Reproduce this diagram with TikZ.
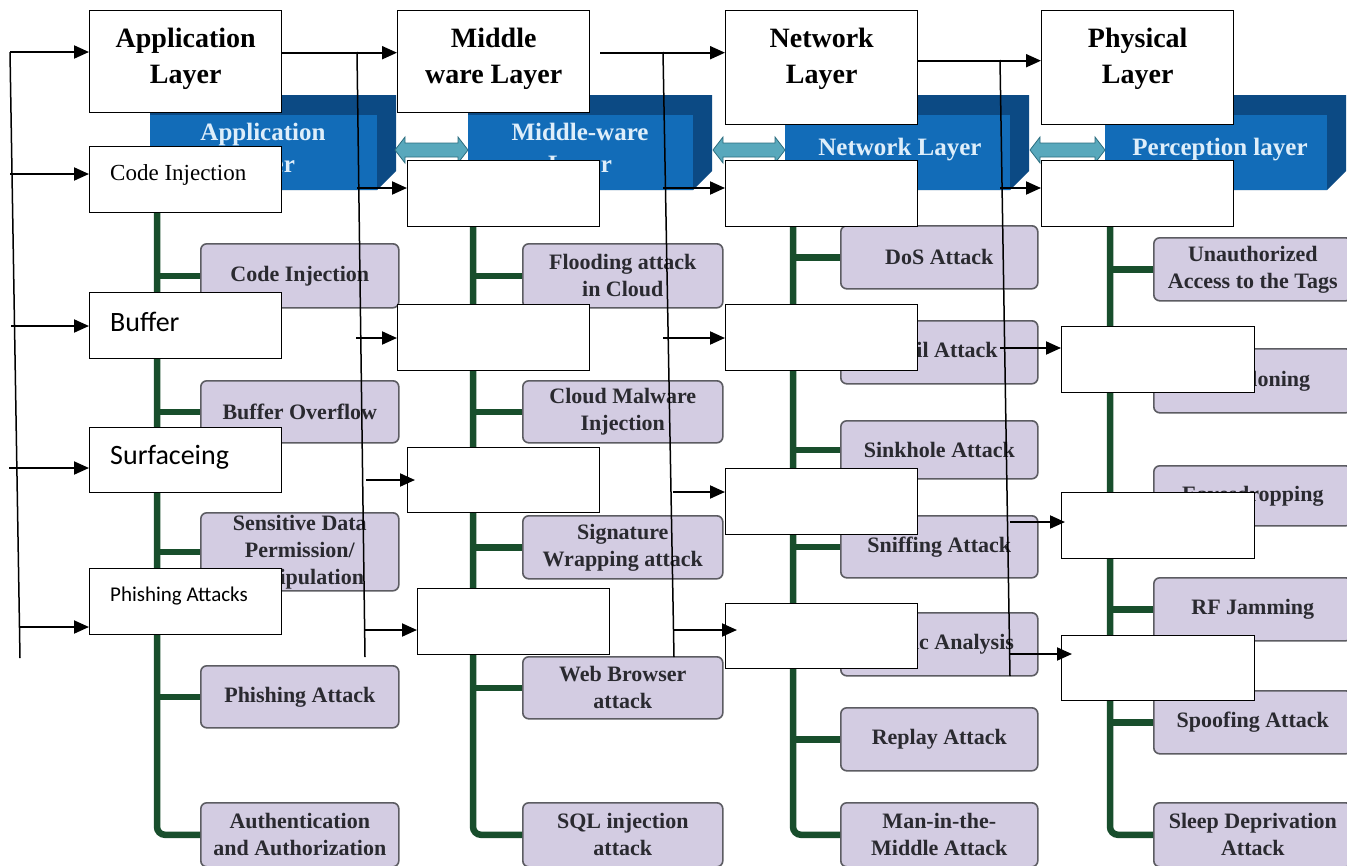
\documentclass[tikz,border=0pt]{standalone}
\usepackage{fontspec}
\setmainfont{Liberation Serif}
\newfontfamily\carlito{Carlito}
\usepackage{tikz}
\usetikzlibrary{arrows.meta,calc}

\definecolor{blkfront}{RGB}{18,108,184}
\definecolor{blkback}{RGB}{12,74,132}
\definecolor{blktext}{RGB}{222,238,250}
\definecolor{linkteal}{RGB}{88,168,188}
\definecolor{linkedge}{RGB}{45,110,128}
\definecolor{treegreen}{RGB}{24,78,44}
\definecolor{atkfill}{RGB}{211,204,226}
\definecolor{atkedge}{RGB}{92,92,98}
\definecolor{atktext}{RGB}{42,42,48}

\begin{document}
\begin{tikzpicture}[x=1pt, y=-1pt, >={Triangle[length=15pt,width=13pt]},
	wbox/.style={draw=black, line width=1.4pt, fill=white, anchor=north west, minimum width=192pt, minimum height=66pt, inner sep=0pt},
	layertext/.style={font=\bfseries\fontsize{28}{36}\selectfont, align=center, inner sep=0pt},
	hdtext/.style={font=\bfseries\fontsize{25}{32}\selectfont, text=blktext, align=center, inner sep=0pt},
	sidetext/.style={anchor=west, inner sep=0pt},
	atkbox/.style={draw=atkedge, line width=1.6pt, fill=atkfill, rounded corners=6pt, anchor=north west, minimum width=198pt, inner sep=1pt, text=atktext, align=center, font=\bfseries\fontsize{22}{27}\selectfont},
	treeline/.style={draw=treegreen, line width=6.5pt, rounded corners=8pt},
	busline/.style={draw=black, line width=1.5pt},
	feedarrow/.style={->, draw=black, line width=2pt}]
		\clip (0,0) rectangle (1347,865);
		\fill[white] (0,0) rectangle (1347,865);
		% blue layer blocks of the underlying figure
		\foreach \xl/\xr in {150/377, 468/693, 785/1010, 1105/1327} {
			\fill[blkback] (\xl,95) -- (\xr+19,95) -- (\xr+19,171) -- (\xr,190) -- (\xl,190) -- cycle;
			\fill[blkfront] (\xl,115) rectangle (\xr,190);
		}
		\foreach \xa/\xb in {395/468, 713/785, 1030/1105} {
			\filldraw[fill=linkteal, draw=linkedge, line width=0.8pt]
				(\xa,150) -- (\xa+10,137) -- (\xa+10,143) -- (\xb-10,143) -- (\xb-10,137) -- (\xb,150)
				-- (\xb-10,163) -- (\xb-10,157) -- (\xa+10,157) -- (\xa+10,163) -- cycle;
		}
		\node[hdtext] (happ) at (263,151) {Application\\Layer};
		\node[hdtext] (hmid) at (580,151) {Middle-ware\\Layer};
		\node[hdtext] (hnet) at (900,150) {Network Layer};
		\node[hdtext] (hper) at (1220,150) {Perception layer};
		% attack boxes
		\node[atkbox, minimum height=64pt] (acode) at (200,243) {Code Injection};
		\node[atkbox, minimum height=62pt] (abuf) at (200,380) {Buffer Overflow};
		\node[atkbox, minimum height=78pt] (asens) at (200,512) {Sensitive Data\\Permission/\\Manipulation};
		\node[atkbox, minimum height=62pt] (aphish) at (200,665) {Phishing Attack};
		\node[atkbox, minimum height=64pt] (aauth) at (200,802) {Authentication\\and Authorization};
		\node[atkbox, minimum width=200pt, minimum height=64pt] (mflood) at (522,243) {Flooding attack\\in Cloud};
		\node[atkbox, minimum width=200pt, minimum height=62pt] (mmal) at (522,380) {Cloud Malware\\Injection};
		\node[atkbox, minimum width=200pt, minimum height=63pt] (msig) at (522,515) {Signature\\Wrapping attack};
		\node[atkbox, minimum width=200pt, minimum height=62pt] (mweb) at (522,656) {Web Browser\\attack};
		\node[atkbox, minimum width=200pt, minimum height=64pt] (msql) at (522,802) {SQL injection\\attack};
		\node[atkbox, minimum width=197pt, minimum height=63pt] (ndos) at (840,225) {DoS Attack};
		\node[atkbox, minimum width=197pt, minimum height=63pt] (nsyb) at (840,320) {Sybil Attack};
		\node[atkbox, minimum width=197pt, minimum height=58pt] (nsink) at (840,420) {Sinkhole Attack};
		\node[atkbox, minimum width=197pt, minimum height=62pt] (nsniff) at (840,515) {Sniffing Attack};
		\node[atkbox, minimum width=197pt, minimum height=63pt] (ntraf) at (840,612) {Traffic Analysis};
		\node[atkbox, minimum width=197pt, minimum height=63pt] (nrep) at (840,707) {Replay Attack};
		\node[atkbox, minimum width=197pt, minimum height=64pt] (nmitm) at (840,802) {Man-in-the-\\Middle Attack};
		\node[atkbox, minimum height=63pt] (ptag) at (1153,237) {Unauthorized\\Access to the Tags};
		\node[atkbox, minimum height=64pt] (pclone) at (1153,348) {Tag Cloning};
		\node[atkbox, minimum height=60pt] (peaves) at (1153,465) {Eavesdropping};
		\node[atkbox, minimum height=63pt] (pjam) at (1153,577) {RF Jamming};
		\node[atkbox, minimum height=63pt] (pspoof) at (1153,690) {Spoofing Attack};
		\node[atkbox, minimum height=64pt] (psleep) at (1153,802) {Sleep Deprivation\\Attack};
		% green trees
		\coordinate (atree) at (157,190);
		\coordinate (mtree) at (473,190);
		\coordinate (ntree) at (793,190);
		\coordinate (ptree) at (1110,190);
		\draw[treeline] (atree) |- (aauth.west);
		\foreach \b in {acode,abuf,asens,aphish} \draw[treeline] (\b.west -| atree) -- (\b.west);
		\draw[treeline] (mtree) |- (msql.west);
		\foreach \b in {mflood,mmal,msig,mweb} \draw[treeline] (\b.west -| mtree) -- (\b.west);
		\draw[treeline] (ntree) |- (nmitm.west);
		\foreach \b in {ndos,nsyb,nsink,nsniff,ntraf,nrep} \draw[treeline] (\b.west -| ntree) -- (\b.west);
		\draw[treeline] (ptree) |- (psleep.west);
		\foreach \b in {ptag,pclone,peaves,pjam,pspoof} \draw[treeline] (\b.west -| ptree) -- (\b.west);
		% white overlay boxes
		\node[wbox, minimum height=102pt] (app) at (89,10) {};
		\node[wbox, minimum height=102pt] (mw) at (397,10) {};
		\node[wbox, minimum height=114pt] (nw) at (725,10) {};
		\node[wbox, minimum height=114pt] (phy) at (1041,10) {};
		\node[layertext] (apptxt) at ($(app.center)+(0,-2.5)$) {Application\\Layer};
		\node[layertext] (mwtxt) at ($(mw.center)+(0,-2.5)$) {Middle\\ware Layer};
		\node[layertext] (nwtxt) at ($(nw.center)+(0,-8.5)$) {Network\\Layer};
		\node[layertext] (phytxt) at ($(phy.center)+(0,-8.5)$) {Physical\\Layer};
		\node[wbox] (ci) at (89,146) {};
		\node[wbox] (m2) at (407,160) {};
		\node[wbox] (n2) at (725,160) {};
		\node[wbox] (p2) at (1041,160) {};
		\node[wbox] (buf) at (89,292) {};
		\node[wbox] (m3) at (397,304) {};
		\node[wbox] (n3) at (725,304) {};
		\node[wbox, minimum width=193pt] (p3) at (1061,326) {};
		\node[wbox, minimum height=65pt] (surf) at (89,427) {};
		\node[wbox, minimum height=65pt] (m4) at (407,447) {};
		\node[wbox] (n4) at (725,468) {};
		\node[wbox, minimum width=193pt] (p4) at (1061,492) {};
		\node[wbox] (phish) at (89,568) {};
		\node[wbox] (m5) at (417,588) {};
		\node[wbox, minimum height=65pt] (n5) at (725,603) {};
		\node[wbox, minimum width=193pt, minimum height=65pt] (p5) at (1061,635) {};
		\node[sidetext, font=\fontsize{23}{28}\selectfont] (citxt) at ($(ci.west)+(21,-4.4)$) {Code Injection};
		\node[sidetext, font=\carlito\fontsize{28}{34}\selectfont] (buftxt) at ($(buf.west)+(21,-3.5)$) {Buffer};
		\node[sidetext, font=\carlito\fontsize{28}{34}\selectfont] (surftxt) at ($(surf.west)+(21,-3)$) {Surfaceing};
		\node[sidetext, font=\carlito\fontsize{21}{26}\selectfont] (phishtxt) at ($(phish.west)+(21,-6)$) {Phishing Attacks};
		% buses and feeds
		\coordinate (b1top) at (10,52);
		\coordinate (b1bot) at (20,658);
		\coordinate (b1b) at (10,174);
		\coordinate (b1c) at (11,326);
		\coordinate (b1d) at (9,468);
		\coordinate (b1e) at (19,627);
		\draw[busline] (b1top) -- (b1bot);
		\draw[feedarrow] (b1top) -- (b1top -| app.west);
		\draw[feedarrow] (b1b) -- (b1b -| ci.west);
		\draw[feedarrow] (b1c) -- (b1c -| buf.west);
		\draw[feedarrow] (b1d) -- (b1d -| surf.west);
		\draw[feedarrow] (b1e) -- (b1e -| phish.west);
		\coordinate (b2top) at (357,52);
		\coordinate (b2bot) at (365,657);
		\coordinate (b2b) at (357,188);
		\coordinate (b2c) at (356,338);
		\coordinate (b2d) at (366,480);
		\coordinate (b2e) at (365,630);
		\draw[busline] (b2top) -- (b2bot);
		\draw[feedarrow] ($(app.east)+(0,-9)$) -- ($(mw.west)+(0,-9)$);
		\draw[feedarrow] (b2b) -- (b2b -| m2.west);
		\draw[feedarrow] (b2c) -- (b2c -| m3.west);
		\draw[feedarrow] (b2d) -- ($(b2d -| m4.west)+(8,0)$);
		\draw[feedarrow] (b2e) -- (b2e -| m5.west);
		\coordinate (b3top) at (663,52);
		\coordinate (b3bot) at (674,657);
		\coordinate (mwout) at ($(mw.east)+(10,-9)$);
		\coordinate (b3b) at (663,188);
		\coordinate (b3c) at (663,338);
		\coordinate (b3d) at (673,492);
		\coordinate (b3e) at (673,630);
		\draw[busline] (b3top) -- (b3bot);
		\draw[feedarrow] (mwout) -- (mwout -| nw.west);
		\draw[feedarrow] (b3b) -- (b3b -| n2.west);
		\draw[feedarrow] (b3c) -- (b3c -| n3.west);
		\draw[feedarrow] (b3d) -- (b3d -| n4.west);
		\draw[feedarrow] (b3e) -- ($(b3e -| n5.west)+(12,0)$);
		\coordinate (b4top) at (1000,60);
		\coordinate (b4bot) at (1010,676);
		\coordinate (nwout) at ($(nw.east)+(0,-7)$);
		\coordinate (b4b) at (1000,188);
		\coordinate (b4c) at (1000,348);
		\coordinate (b4d) at (1010,522);
		\coordinate (b4e) at (1010,654);
		\draw[busline] (b4top) -- (b4bot);
		\draw[feedarrow] (nwout) -- (nwout -| phy.west);
		\draw[feedarrow] (b4b) -- (b4b -| p2.west);
		\draw[feedarrow] (b4c) -- (b4c -| p3.west);
		\draw[feedarrow] (b4d) -- ($(b4d -| p4.west)+(4,0)$);
		\draw[feedarrow] (b4e) -- ($(b4e -| p5.west)+(11,0)$);
	\end{tikzpicture}
\end{document}
